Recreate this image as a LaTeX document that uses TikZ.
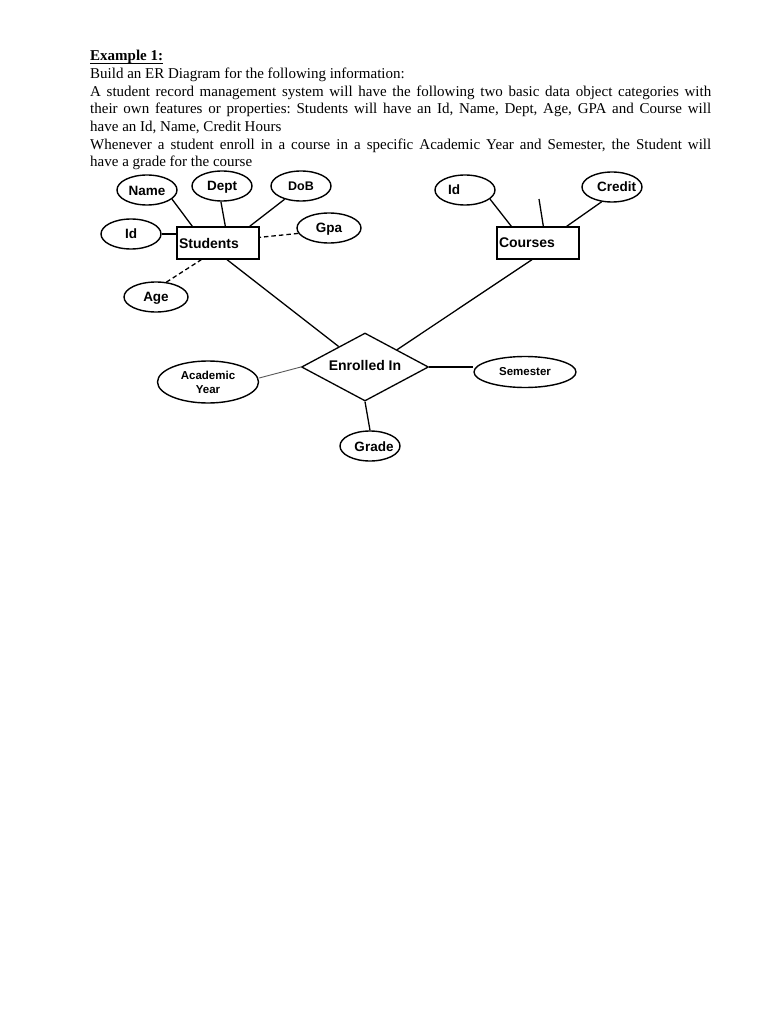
\documentclass[tikz,border=0pt]{standalone}
\usepackage{fontspec}
\setmainfont{Liberation Serif}
\newfontfamily\labelfont{Liberation Sans}
\usetikzlibrary{shapes.geometric, positioning, calc}

% underlined heading, rule just under the descenders
\newcommand{\headline}[1]{\setbox0\hbox{#1}\rlap{\rule[-3.2pt]{\wd0}{0.8pt}}\box0}

\begin{document}
\begin{tikzpicture}[x=1pt, y=-1pt,
  oval/.style={ellipse, draw, line width=1.4pt, inner sep=0pt,
    minimum width=60pt, minimum height=30pt},
  attr/.style={oval, text height=9.7pt, text depth=0pt,
    font=\labelfont\bfseries\fontsize{13.5}{15}\selectfont},
  small attr/.style={oval, font=\labelfont\bfseries\fontsize{11.5}{14}\selectfont},
  entity/.style={rectangle, draw, line width=1.3pt, inner sep=2pt,
    minimum width=82pt, minimum height=32pt, text width=78pt, align=left,
    font=\labelfont\bfseries\fontsize{14}{16}\selectfont},
  relation/.style={diamond, aspect=1.87, draw, line width=1.3pt, inner sep=0pt,
    minimum width=127pt, minimum height=68pt,
    font=\labelfont\bfseries\fontsize{14}{16}\selectfont},
  link/.style={line width=1.3pt},
  weak link/.style={line width=1.3pt, dash pattern=on 4.5pt off 3pt},
]

% page
\fill[white] (0,0) rectangle (768,1024);
\useasboundingbox (0,0) rectangle (768,1024);

% Task text
\node[anchor=north west, inner sep=0pt, text width=621pt, align=justify,
  font=\fontsize{15}{17.7}\selectfont\frenchspacing] (task) at (90,50)
  {\headline{\textbf{Example 1:}}\par
   Build an ER Diagram for the following information:\par
   A student record management system will have the following two basic data object categories with\linebreak
   their own features or properties: Students will have an Id, Name, Dept, Age, GPA and Course will\linebreak
   have an Id, Name, Credit Hours\par
   Whenever a student enroll in a course in a specific Academic Year and Semester, the Student will\linebreak
   have a grade for the course\par};

% Entities
\node[entity] (students) at (218,243) {\raisebox{-1pt}{Students}};
\node[entity] (courses) at (538,243) {Courses};

% Relationship
\node[relation] (enrolled) at (365,367) {\raisebox{4pt}{Enrolled In}};

% Attributes of Students
\node[attr] (sname) at (147,190) {\raisebox{-1pt}{Name}};
\node[attr] (sdept) at (222,186) {Dept};
\node[attr, font=\labelfont\bfseries\fontsize{12.5}{14}\selectfont] (sdob) at (301,186) {DoB};
\node[attr] (sid) at (131,234) {Id};
\node[attr, minimum width=64pt] (sgpa) at (329,228) {Gpa};
\node[attr, minimum width=64pt] (sage) at (156,297) {Age};

% Attributes of Courses
\node[attr] (cid) at (465,190) {\makebox[0pt]{\hspace*{-22pt}Id}};
\node[attr] (ccredit) at (612,187) {\makebox[0pt]{\hspace*{9pt}Credit}};
\coordinate (cname) at (539,199);

% Attributes of Enrolled In
\node[small attr, minimum width=101pt, minimum height=42pt, align=center] (year) at (208,382)
  {Academic\\Year};
\node[small attr, minimum width=102pt, minimum height=31pt] (semester) at (525,372) {Semester};
\node[attr] (grade) at (370,446) {\makebox[0pt]{\hspace*{8pt}\raisebox{-1pt}{Grade}}};

% Student links
\draw[link] (sname.-20) -- ([xshift=16pt]students.north west);
\draw[link] (sdept.-94) -- ([xshift=49pt]students.north west);
\draw[link] (sdob.-141) -- ([xshift=-10pt]students.north east);
\draw[link] (sid.east) -- (sid.east -| students.west);
\draw[weak link] (sgpa.190) -- ([yshift=-11pt]students.north east);
\draw[weak link] (sage.55) -- ([xshift=25pt]students.south west);

% Course links
\draw[link] (cid.-20) -- ([xshift=15pt]courses.north west);
\draw[link] (cname) -- ([xshift=47pt]courses.north west);
\draw[link] (ccredit.-125) -- ([xshift=-13pt]courses.north east);

% Relationship links
\draw[link] ([xshift=9pt]students.south) -- ($(enrolled.west)!0.59!(enrolled.north)$);
\draw[link] ([xshift=-6pt]courses.south) -- ($(enrolled.north)!0.5!(enrolled.east)$);
\draw[line width=0.9pt, gray!70!black] ([yshift=4pt]year.east) -- (enrolled.west);
\draw[link] (enrolled.east) -- (enrolled.east -| semester.west);
\draw[link] (enrolled.south) -- (grade.north);

\end{tikzpicture}
\end{document}
